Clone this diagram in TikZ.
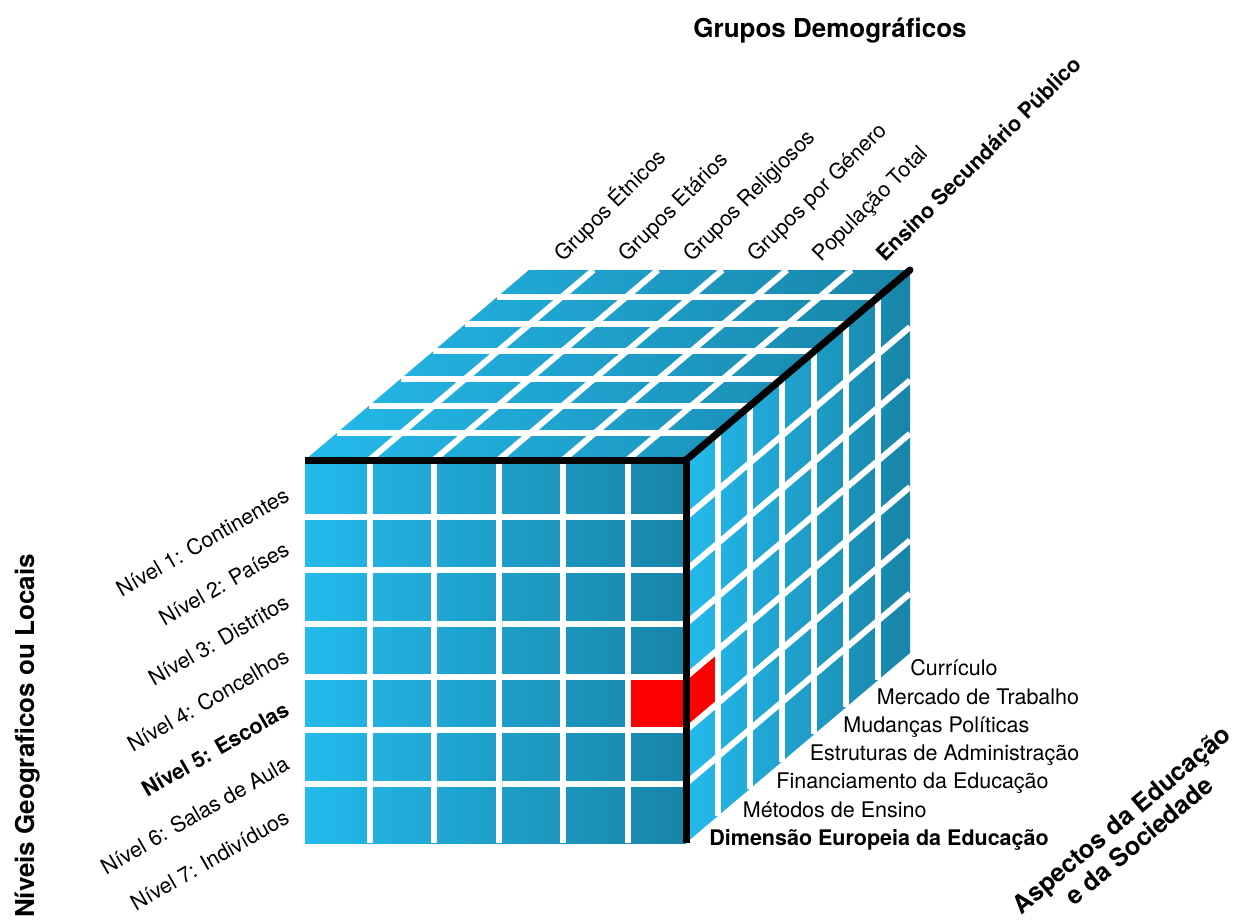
\documentclass[tikz,border=0pt]{standalone}
\usepackage{fontspec}
\setmainfont{TeX Gyre Heros}
\definecolor{cubelight}{RGB}{36,186,236}
\definecolor{cubemid}{RGB}{32,170,218}
\definecolor{cubedark}{RGB}{24,132,168}
\definecolor{cellred}{RGB}{255,0,0}
\begin{document}
\begin{tikzpicture}[x=0.5pt,y=-0.5pt,
  lab/.style={font=\fontsize{10.75}{12}\selectfont, inner sep=0pt},
  boldlab/.style={lab, font=\fontsize{10.75}{12}\selectfont\bfseries},
  title/.style={font=\fontsize{13}{14}\selectfont\bfseries, inner sep=0pt},
  gridline/.style={white, line width=3pt},
  cubeedge/.style={black, line width=3.5pt}]
\useasboundingbox (0,0) rectangle (1239,922);

% cube corners (front face 381 x 383, depth vector (224,-190))
\coordinate (ftl) at (305,460);
\coordinate (ftr) at (686,460);
\coordinate (fbl) at (305,843);
\coordinate (fbr) at (686,843);
\coordinate (btl) at (529,270);
\coordinate (btr) at (910,270);
\coordinate (bbr) at (910,653);

% column step, row step and row offset of the cell grid
\def\cw{64.5}
\def\rh{53.3}
\def\ro{463.7}

% faces
\shade[left color=cubelight, middle color=cubemid, right color=cubedark]
  (ftl) rectangle (fbr);
\shade[left color=cubelight, middle color=cubemid, right color=cubedark]
  (ftl) -- (ftr) -- (btr) -- (btl) -- cycle;
\shade[left color=cubelight, middle color=cubelight, right color=cubedark]
  (ftr) -- (btr) -- (bbr) -- (fbr) -- cycle;

% highlighted cell: Nivel 5 x Ensino Secundario Publico x Dimensao Europeia
\fill[cellred] ({305+\cw*5},{\ro+\rh*4}) rectangle (686,{\ro+\rh*5});
\fill[cellred] (686,{\ro+\rh*4}) -- (718,{\ro+\rh*4-27.143})
  -- (718,{\ro+\rh*5-27.143}) -- (686,{\ro+\rh*5}) -- cycle;

% top face grid
\foreach \i in {1,...,5}
  \draw[gridline] ({305+\cw*\i},460) -- ({529+\cw*\i},270);
\foreach \k in {1,...,6}
  \draw[gridline] ({305+32*\k},{460-27.143*\k}) -- ({686+32*\k},{460-27.143*\k});

% right face grid
\foreach \k in {1,...,6}
  \draw[gridline] ({686+32*\k},{460-27.143*\k}) -- ({686+32*\k},{843-27.143*\k});
\foreach \j in {1,...,6}
  \draw[gridline] (686,{\ro+\rh*\j}) -- (910,{\ro+\rh*\j-190});

% front face grid
\foreach \i in {1,...,5}
  \draw[gridline] ({305+\cw*\i},460) -- ({305+\cw*\i},843);
\foreach \j in {1,...,6}
  \draw[gridline] (305,{\ro+\rh*\j}) -- (686,{\ro+\rh*\j});

% visible cube edges
\draw[cubeedge] (ftl) -- (ftr) -- (fbr);
\draw[cubeedge, line cap=round] (ftr) -- (btr);

% demographic groups along the top
\foreach \t [count=\i from 0] in {Grupos Étnicos, Grupos Etários, Grupos Religiosos,
    Grupos por Género, População Total}
  \node[lab, rotate=45, anchor=base west] (top\i) at ({563+\cw*\i},263) {\t};
\node[boldlab, rotate=45, anchor=base west] (top5) at ({563+\cw*5},263)
  {Ensino Secundário Público};

% geographic levels along the left
\foreach \t [count=\j from 0] in {Nível 1: Continentes, Nível 2: Países,
    Nível 3: Distritos, Nível 4: Concelhos}
  \node[lab, rotate=30, anchor=base east] (lev\j) at (291,{500+53.7*\j}) {\t};
\node[boldlab, rotate=30, anchor=base east] (lev4) at (291,{500+53.7*4})
  {Nível 5: Escolas};
\node[lab, rotate=30, anchor=base east] (lev5) at (291,{500+53.7*5})
  {Nível 6: Salas de Aula};
\node[lab, rotate=30, anchor=base east] (lev6) at (291,{500+53.7*6})
  {Nível 7: Indivíduos};

% aspects along the bottom right
\node[boldlab, anchor=base west] (asp0) at (709,845.5)
  {Dimensão Europeia da Educação};
\foreach \t [count=\j from 1] in {Métodos de Ensino, Financiamento da Educação,
    Estruturas de Administração, Mudanças Políticas, Mercado de Trabalho, Currículo}
  \node[lab, anchor=base west] (asp\j) at ({709+33.5*\j},{845.5-28.3*\j}) {\t};

% axis titles
\node[title, anchor=base] (demog) at (830,37) {Grupos Demográficos};
\node[title, rotate=90, anchor=base] (geo) at (34,736) {Níveis Geograficos ou Locais};
\node[title, font=\fontsize{12.6}{13.8}\selectfont\bfseries, rotate=40, align=center,
  anchor=center] (aspects) at (1130,830)
  {Aspectos da Educação\\e da Sociedade};
\end{tikzpicture}
\end{document}
